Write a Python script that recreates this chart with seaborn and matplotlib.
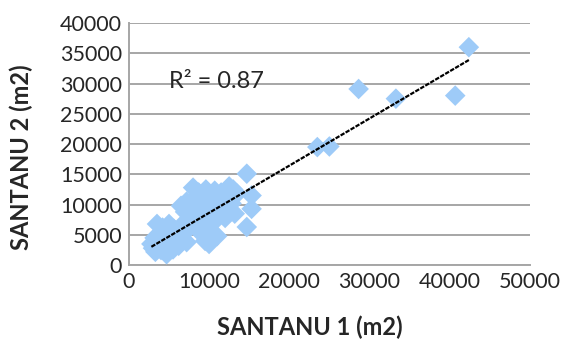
import numpy as np
import pandas as pd
import matplotlib
matplotlib.use("Agg")
import matplotlib.pyplot as plt
import seaborn as sns

# building areas (m2) measured in the two surveys
santanu_1 = [
    2800, 3000, 3200, 3300, 3500, 3600, 3800, 4000, 4200, 4300, 4500, 4700, 4800,
    5000, 5100, 5300, 5500, 5600, 5800, 6000, 6200, 6500, 6800, 7000, 7200,
    6500, 7000, 7200, 7500, 7800, 8000, 8200, 8300, 8500, 8700, 9000, 9000, 9200,
    9500, 9600, 9800, 10000, 10000, 10300, 10500, 10700, 11000, 11200, 11500,
    11800, 12000, 12200, 12500, 12600, 12800, 13200, 13500, 11000, 9800, 8800,
    7600, 13000,
    14700, 14700, 15300, 15300, 23500, 25000, 28650, 33300, 40700, 42400,
]
santanu_2 = [
    3500, 2800, 4500, 2200, 6800, 3800, 5200, 2500, 6200, 4200, 3000, 1800, 5600,
    6800, 3600, 4800, 2600, 6000, 4000, 5200, 3200, 6500, 4200, 5600, 3800,
    9800, 8800, 10500, 7500, 9500, 12800, 11000, 6800, 9000, 12000, 7800, 10500, 5000,
    4000, 12500, 8500, 11500, 3500, 9800, 7000, 12300, 10500, 8200, 12000,
    9500, 7800, 11200, 13000, 8800, 10200, 8500, 11800, 4800, 5600, 6000,
    6200, 12500,
    15100, 6300, 11500, 9300, 19500, 19600, 29100, 27500, 28000, 36000,
]

# Excel linear trendline
trend_slope = 0.779
trend_intercept = 850
r_squared = 0.87

df = pd.DataFrame({"s1": santanu_1, "s2": santanu_2})
x_line = np.array([df["s1"].min(), df["s1"].max()])
trend = pd.DataFrame({"s1": x_line, "s2": trend_slope * x_line + trend_intercept})

sns.set_style("white")
plt.rcParams["font.family"] = ["Lato", "DejaVu Sans"]

fig, ax = plt.subplots(figsize=(5.63, 3.43), dpi=100)
fig.subplots_adjust(left=0.229, right=0.941, bottom=0.227, top=0.933)

sns.scatterplot(data=df, x="s1", y="s2", marker="D", s=110, color="#9ECBF8",
                edgecolor="none", ax=ax, zorder=3)
sns.lineplot(data=trend, x="s1", y="s2", color="black", lw=1.6,
             linestyle=(0, (2, 0.6)), ax=ax, zorder=4)

ax.text(5000, 30400, f"R\u00b2 = {r_squared}", fontsize=17, color="#262626",
        va="center", ha="left")

ax.set_xlim(0, 50000)
ax.set_ylim(0, 40000)
ax.set_xticks(range(0, 50001, 10000))
ax.set_yticks(range(0, 40001, 5000))
ax.yaxis.grid(True, color="#A6A6A6", lw=1.4)
ax.set_axisbelow(True)
for side in ["top", "right"]:
    ax.spines[side].set_visible(False)
for side in ["left", "bottom"]:
    ax.spines[side].set_color("#A6A6A6")
    ax.spines[side].set_linewidth(1.4)
ax.tick_params(length=0, labelsize=15.5, labelcolor="#262626", pad=5)

ax.set_xlabel("SANTANU 1 (m2)", fontsize=17, fontweight="bold", color="#262626")
ax.set_ylabel("SANTANU 2 (m2)", fontsize=17, fontweight="bold", color="#262626")
ax.xaxis.set_label_coords(0.451, -0.21)
ax.yaxis.set_label_coords(-0.24, 0.446)

fig.savefig("out.png", dpi=100)
